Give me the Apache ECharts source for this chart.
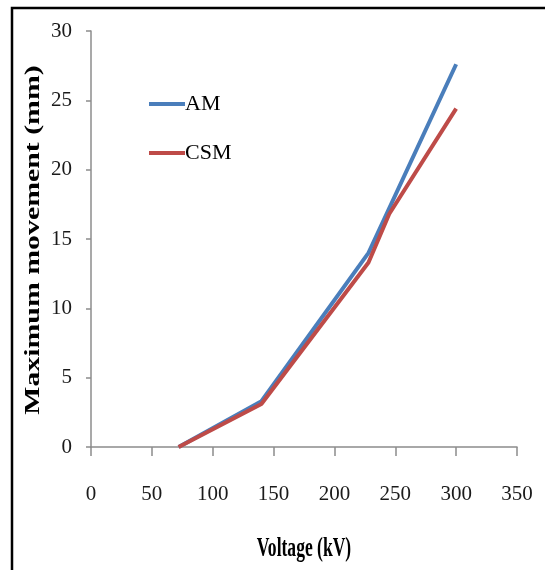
<!DOCTYPE html>
<html><head><meta charset="utf-8">
<script src="https://cdn.jsdelivr.net/npm/echarts@6/dist/echarts.min.js"></script>
</head><body style="margin:0;background:#fff">
<div id="c" style="width:545px;height:570px"></div>
<script>
// Data
const amVoltage  = [72, 140, 228, 300];
const amMovement = [0, 3.3, 14.0, 27.6];
const csmVoltage  = [72, 140, 228, 245, 300];
const csmMovement = [0, 3.1, 13.3, 16.8, 24.4];
const seriesNames = ['AM', 'CSM'];
const xTicks = [0, 50, 100, 150, 200, 250, 300, 350];
const yTicks = [0, 5, 10, 15, 20, 25, 30];

const pair = (xs, ys) => xs.map((x, i) => [x, ys[i]]);
const FONT = 'Liberation Serif';

const chart = echarts.init(document.getElementById('c'));
chart.setOption({
  animation: false,
  backgroundColor: '#fff',
  grid: { left: 91, right: 28, top: 31, bottom: 123 },
  xAxis: {
    type: 'value', min: xTicks[0], max: xTicks[xTicks.length - 1], interval: 50,
    axisLine: { show: true, lineStyle: { color: '#8c8c8c', width: 1.5 } },
    axisTick: { show: true, length: 9, lineStyle: { color: '#8c8c8c', width: 1.5 } },
    splitLine: { show: false },
    axisLabel: { margin: 37, fontFamily: FONT, fontSize: 21, color: '#1a1a1a' }
  },
  yAxis: {
    type: 'value', min: yTicks[0], max: yTicks[yTicks.length - 1], interval: 5,
    axisLine: { show: true, lineStyle: { color: '#8c8c8c', width: 1.5 } },
    axisTick: { show: true, length: 5, lineStyle: { color: '#8c8c8c', width: 1.5 } },
    splitLine: { show: false },
    axisLabel: { margin: 19, fontFamily: FONT, fontSize: 21, color: '#1a1a1a' }
  },
  legend: {
    orient: 'vertical', left: 144, top: 88, itemGap: 27,
    itemWidth: 36, itemHeight: 4, icon: 'rect',
    textStyle: { fontFamily: FONT, fontSize: 22, color: '#000', padding: [0, 0, 0, -5] },
    data: seriesNames
  },
  series: [
    { name: seriesNames[0], type: 'line', data: pair(amVoltage, amMovement), showSymbol: false,
      lineStyle: { width: 4, color: '#4a7ebb' }, itemStyle: { color: '#4a7ebb' } },
    { name: seriesNames[1], type: 'line', data: pair(csmVoltage, csmMovement), showSymbol: false,
      lineStyle: { width: 4, color: '#be4b48' }, itemStyle: { color: '#be4b48' } }
  ],
  graphic: [
    { type: 'polyline', shape: { points: [[12, 580], [12, 8], [560, 8]] },
      style: { stroke: '#000', lineWidth: 2.5, fill: null } },
    { type: 'text', x: 34, y: 240, rotation: Math.PI / 2, scaleX: 1.42,
      style: { text: 'Maximum movement (mm)', fontFamily: FONT, fontWeight: 'bold', fontSize: 21,
               fill: '#000', align: 'center', verticalAlign: 'middle' } },
    { type: 'text', x: 304, y: 549, scaleX: 0.65,
      style: { text: 'Voltage (kV)', fontFamily: FONT, fontWeight: 'bold', fontSize: 27,
               fill: '#000', align: 'center', verticalAlign: 'middle' } }
  ]
});
</script></body></html>
